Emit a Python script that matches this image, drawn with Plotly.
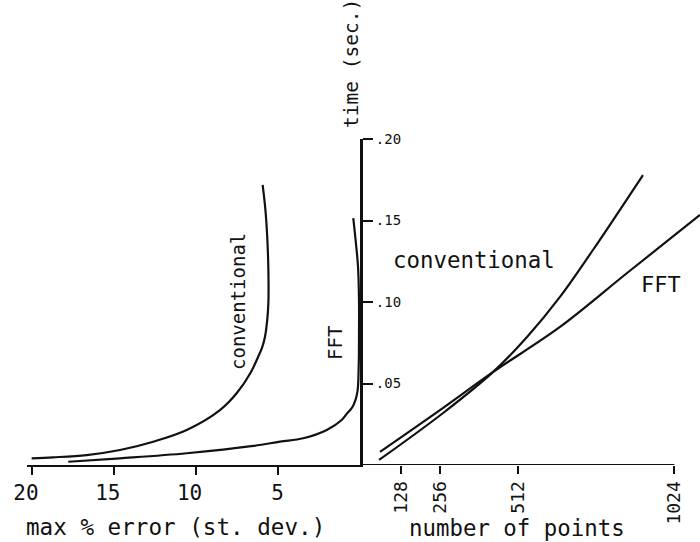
import plotly.graph_objects as go

W, H = 700, 542

# ---- data ----
# left panel: max % error (st. dev.) vs time (sec.)
err_conv = [5.92, 5.75, 5.64, 5.57, 5.57, 5.64, 5.78, 5.96, 6.20, 6.63, 7.51, 8.53, 10.56, 12.61, 14.64, 16.68, 18.72, 20.04]
t_err_conv = [0.1718, 0.1564, 0.1399, 0.1196, 0.0994, 0.0890, 0.0785, 0.0718, 0.0663, 0.0571, 0.0440, 0.0337,
              0.0215, 0.0143, 0.0092, 0.0061, 0.0047, 0.0041]
err_fft = [0.38, 0.22, 0.09, 0.03, 0.03, 0.05, 0.14, 0.43, 0.76, 1.09, 2.00, 3.44, 4.86, 6.49, 10.56, 14.64, 17.80]
t_err_fft = [0.1515, 0.1362, 0.1215, 0.1012, 0.0810, 0.0601, 0.0442, 0.0356, 0.0317, 0.0276, 0.0215,
             0.0164, 0.0143, 0.0117, 0.0072, 0.0041, 0.0020]

# right panel: number of points vs time (sec.)
n_conv = [56, 266, 430, 541, 649, 757, 921]
t_n_conv = [0.0031, 0.0319, 0.0571, 0.0785, 0.1031, 0.1319, 0.1779]
n_fft = [59, 266, 430, 649, 869, 1108]
t_n_fft = [0.0080, 0.0350, 0.0571, 0.0847, 0.1178, 0.1534]

err_ticks = [20, 15, 10, 5]
err_ticktext = ["20\u00a0", "15\u00a0", "10\u00a0", "5"]
n_ticks = [128, 256, 512, 1024]
t_ticks = [0.05, 0.10, 0.15, 0.20]
t_ticktext = [".05", ".10", ".15", ".20"]

FONT = "DejaVu Sans Mono"
INK = "#111111"


def px(x):
    return x / W


def py(y):
    return 1 - y / H


fig = go.Figure()
line = dict(color=INK, width=2.2, shape="spline", smoothing=1.0)
fig.add_trace(go.Scatter(x=err_conv, y=t_err_conv, mode="lines", line=line, xaxis="x", yaxis="y"))
fig.add_trace(go.Scatter(x=err_fft, y=t_err_fft, mode="lines", line=line, xaxis="x", yaxis="y"))
fig.add_trace(go.Scatter(x=n_conv, y=t_n_conv, mode="lines", line=line, xaxis="x2", yaxis="y"))
fig.add_trace(go.Scatter(x=n_fft, y=t_n_fft, mode="lines", line=line, xaxis="x2", yaxis="y"))

# baseline of the right axis (ends at 1024)
fig.add_shape(type="line", xref="x2", yref="y", x0=0, x1=n_ticks[-1], y0=0, y1=0,
              line=dict(color=INK, width=2))

annos = [
    dict(text="max % error (st. dev.)", x=px(175), y=py(527), size=22.6, angle=0),
    dict(text="number of points", x=px(517), y=py(528), size=22.4, angle=0),
    dict(text="time (sec.)", x=px(352), y=py(64), size=19.5, angle=-90),
    dict(text="conventional", x=px(474), y=py(260), size=22.4, angle=0),
    dict(text="FFT", x=px(661), y=py(284), size=22, angle=0),
    dict(text="conventional", x=px(238), y=py(302), size=19, angle=-90),
    dict(text="FFT", x=px(335), y=py(343), size=19, angle=-90),
]
for a in annos:
    fig.add_annotation(text=a["text"], x=a["x"], y=a["y"], xref="paper", yref="paper",
                       showarrow=False, textangle=a["angle"], xanchor="center", yanchor="middle",
                       font=dict(family=FONT, size=a["size"], color=INK))

fig.update_layout(
    width=W, height=H,
    margin=dict(l=0, r=0, t=0, b=0, pad=0),
    paper_bgcolor="white", plot_bgcolor="white",
    showlegend=False,
    xaxis=dict(domain=[px(27), px(360)], range=[(359.5 - 27) / 16.36, (359.5 - 360) / 16.36], anchor="y",
               automargin=False,
               showline=True, linewidth=2, linecolor=INK, showgrid=False, zeroline=False,
               ticks="outside", ticklen=8, tickwidth=2, tickcolor=INK,
               tickvals=err_ticks, ticktext=err_ticktext,
               tickfont=dict(family=FONT, size=21, color=INK)),
    xaxis2=dict(domain=[px(362), 1], range=[0, 1108], anchor="y",
                automargin=False,
                showline=False, showgrid=False, zeroline=False,
                ticks="outside", ticklen=8, tickwidth=2, tickcolor=INK,
                tickvals=n_ticks, ticktext=[str(v) for v in n_ticks], tickangle=-90,
                tickfont=dict(family=FONT, size=18, color=INK)),
    yaxis=dict(domain=[1 - 465 / H, 1 - 139 / H], range=[0, 0.2], anchor="x", side="right",
               automargin=False,
               showline=True, linewidth=3, linecolor=INK, showgrid=False, zeroline=False,
               ticks="outside", ticklen=10, tickwidth=2, tickcolor=INK,
               tickvals=t_ticks, ticktext=t_ticktext,
               tickfont=dict(family=FONT, size=14, color=INK)),
)

fig.write_html("out.html")
